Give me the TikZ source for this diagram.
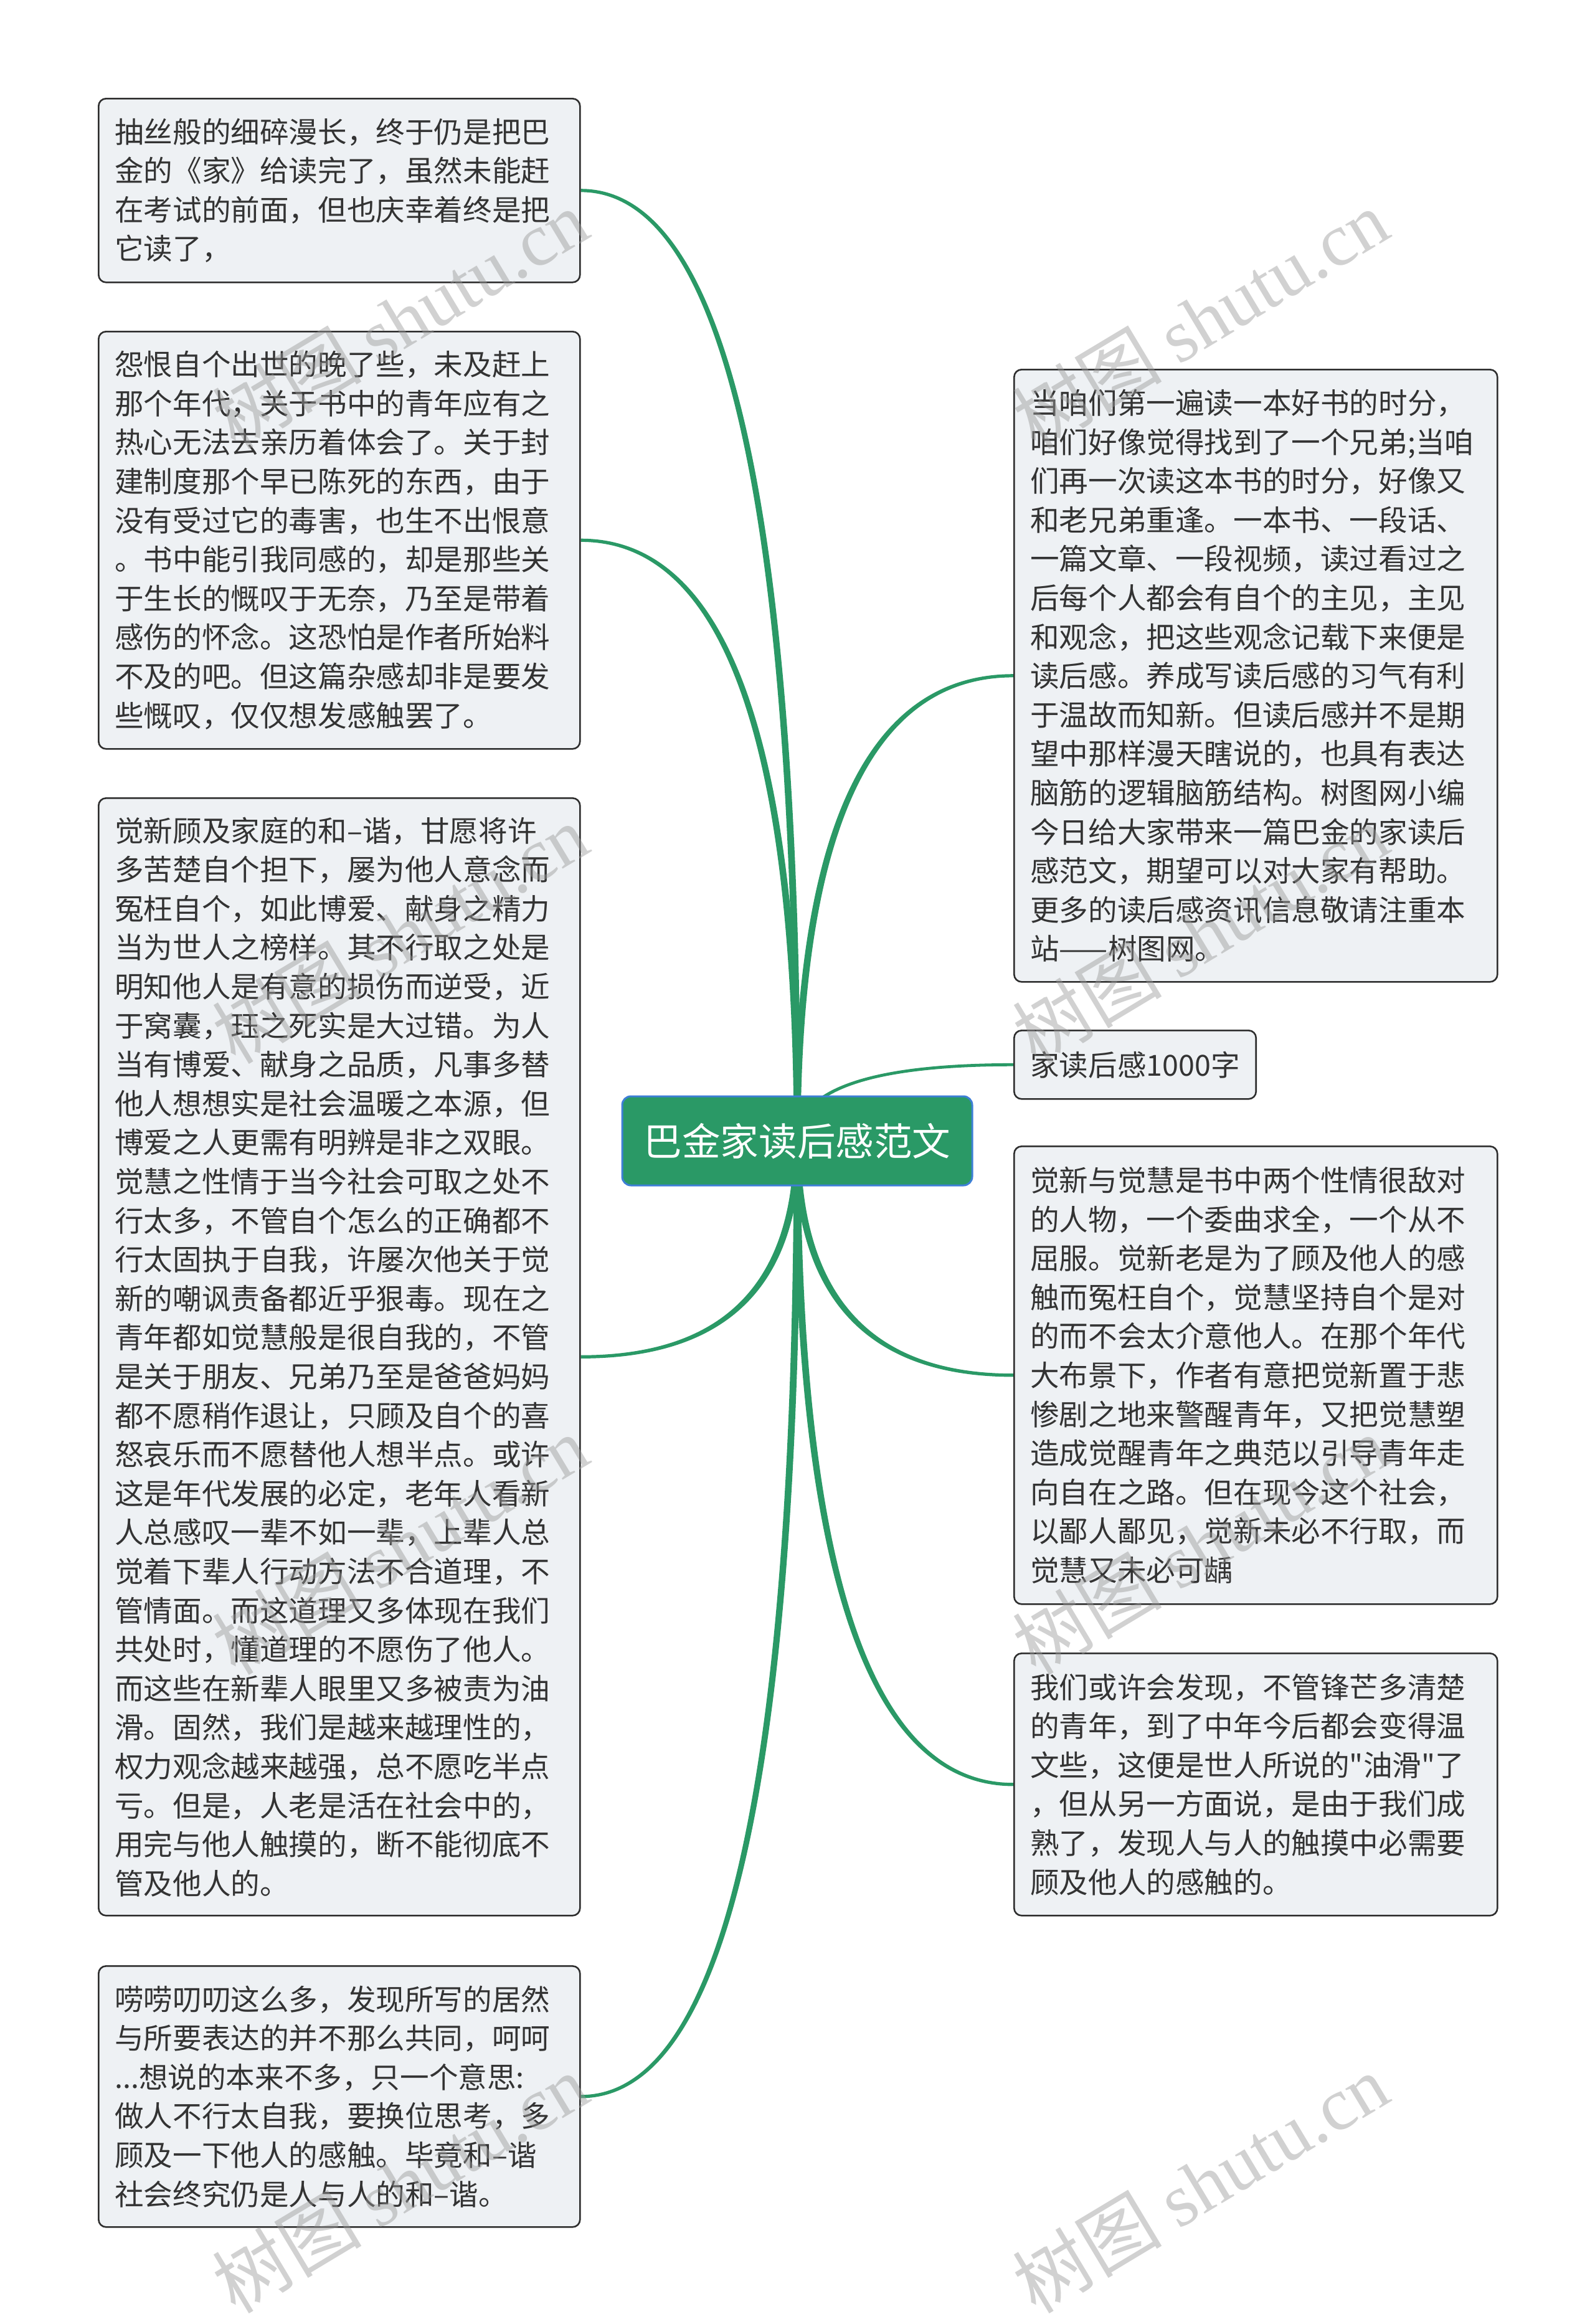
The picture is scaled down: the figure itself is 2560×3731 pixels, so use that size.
\documentclass[tikz,border=0pt]{standalone}
\usepackage{fontspec}
\setmainfont{Noto Sans CJK SC}
\newfontfamily\wmlatin{Liberation Serif}
\usetikzlibrary{calc,backgrounds}
\usepackage{xcolor}

\definecolor{branchgreen}{HTML}{2A9966}
\definecolor{rootblue}{HTML}{3D7FD6}
\definecolor{leaffill}{HTML}{EEF1F4}
\definecolor{leafline}{HTML}{2E2E2E}
\definecolor{inkgray}{HTML}{333333}

% straight double quote, kept out of the TeX mapping
\newcommand\sq{\XeTeXglyph\XeTeXcharglyph"22\relax}

% tapered branch from the root to a leaf anchor
\newcommand\branch[3]{%
  \fill[branch] let \p0=(root.center), \p1=(#1),
      \n1={sign(\x1-\x0)}, \n2={sign(\y1-\y0)} in
    ({\x0+(\n1)*#2}, \y0)
      .. controls ({\x0+(\n1)*#2}, {\y0+2/3*(\y1-(\n2)*#3-\y0)})
             and ({\x1+2/3*(\x0+(\n1)*#2-\x1)}, {\y1-(\n2)*#3}) ..
    (\x1, {\y1-(\n2)*#3}) -- (\x1, {\y1+(\n2)*#3})
      .. controls ({\x1+2/3*(\x0-(\n1)*#2-\x1)}, {\y1+(\n2)*#3})
             and ({\x0-(\n1)*#2}, {\y0+2/3*(\y1+(\n2)*#3-\y0)}) ..
    ({\x0-(\n1)*#2}, \y0) -- cycle;
}

\begin{document}
\begin{tikzpicture}[x=1pt, y=-1pt,
  leaf/.style={draw=leafline, fill=leaffill, line width=2.6pt, rounded corners=12pt,
    anchor=north west, inner xsep=26pt, inner ysep=0pt, align=left, text=inkgray,
    font=\fontsize{46.6}{62.6}\selectfont},
  root/.style={draw=rootblue, fill=branchgreen, line width=3pt, rounded corners=14pt,
    minimum width=562pt, minimum height=143pt, inner sep=0pt, text=white,
    font=\fontsize{61.6}{70}\selectfont},
  branch/.style={fill=branchgreen},
  wmtext/.style={text=black!40, text opacity=0.45, rotate=31,
    font=\fontsize{120}{130}\selectfont}]
\useasboundingbox (0,0) rectangle (2560,3731);

\node[root] (root) at (1280,1831.5) {巴金家读后感范文};

\node[leaf, text width=721pt, minimum height=295pt] (lb1) at (157,157) {抽丝般的细碎漫长，终于仍是把巴\\金的《家》给读完了，虽然未能赶\\在考试的前面，但也庆幸着终是把\\它读了，};
\node[leaf, text width=721pt, minimum height=670pt] (lb2) at (157,531) {怨恨自个出世的晚了些，未及赶上\\那个年代，关于书中的青年应有之\\热心无法去亲历着体会了。关于封\\建制度那个早已陈死的东西，由于\\没有受过它的毒害，也生不出恨意\\。书中能引我同感的，却是那些关\\于生长的慨叹于无奈，乃至是带着\\感伤的怀念。这恐怕是作者所始料\\不及的吧。但这篇杂感却非是要发\\些慨叹，仅仅想发感触罢了。};
\node[leaf, text width=721pt, minimum height=1794pt] (lb3) at (157,1280) {觉新顾及家庭的和–谐，甘愿将许\\多苦楚自个担下，屡为他人意念而\\冤枉自个，如此博爱、献身之精力\\当为世人之榜样。其不行取之处是\\明知他人是有意的损伤而逆受，近\\于窝囊，珏之死实是大过错。为人\\当有博爱、献身之品质，凡事多替\\他人想想实是社会温暖之本源，但\\博爱之人更需有明辨是非之双眼。\\觉慧之性情于当今社会可取之处不\\行太多，不管自个怎么的正确都不\\行太固执于自我，许屡次他关于觉\\新的嘲讽责备都近乎狠毒。现在之\\青年都如觉慧般是很自我的，不管\\是关于朋友、兄弟乃至是爸爸妈妈\\都不愿稍作退让，只顾及自个的喜\\怒哀乐而不愿替他人想半点。或许\\这是年代发展的必定，老年人看新\\人总感叹一辈不如一辈，上辈人总\\觉着下辈人行动方法不合道理，不\\管情面。而这道理又多体现在我们\\共处时，懂道理的不愿伤了他人。\\而这些在新辈人眼里又多被责为油\\滑。固然，我们是越来越理性的，\\权力观念越来越强，总不愿吃半点\\亏。但是，人老是活在社会中的，\\用完与他人触摸的，断不能彻底不\\管及他人的。};
\node[leaf, text width=721pt, minimum height=419pt] (lb4) at (157,3155) {唠唠叨叨这么多，发现所写的居然\\与所要表达的并不那么共同，呵呵\\...想说的本来不多，只一个意思:\\做人不行太自我，要换位思考，多\\顾及一下他人的感触。毕竟和–谐\\社会终究仍是人与人的和–谐。};

\node[leaf, text width=724pt, minimum height=983pt] (rb1) at (1627,592) {当咱们第一遍读一本好书的时分，\\咱们好像觉得找到了一个兄弟;当咱\\们再一次读这本书的时分，好像又\\和老兄弟重逢。一本书、一段话、\\一篇文章、一段视频，读过看过之\\后每个人都会有自个的主见，主见\\和观念，把这些观念记载下来便是\\读后感。养成写读后感的习气有利\\于温故而知新。但读后感并不是期\\望中那样漫天瞎说的，也具有表达\\脑筋的逻辑脑筋结构。树图网小编\\今日给大家带来一篇巴金的家读后\\感范文，期望可以对大家有帮助。\\更多的读后感资讯信息敬请注重本\\站——树图网。};
\node[leaf, minimum height=110pt] (rb2) at (1627,1653) {家读后感1000字};
\node[leaf, text width=724pt, minimum height=735pt] (rb3) at (1627,1839) {觉新与觉慧是书中两个性情很敌对\\的人物，一个委曲求全，一个从不\\屈服。觉新老是为了顾及他人的感\\触而冤枉自个，觉慧坚持自个是对\\的而不会太介意他人。在那个年代\\大布景下，作者有意把觉新置于悲\\惨剧之地来警醒青年，又把觉慧塑\\造成觉醒青年之典范以引导青年走\\向自在之路。但在现今这个社会，\\以鄙人鄙见，觉新未必不行取，而\\觉慧又未必可龋};
\node[leaf, text width=724pt, minimum height=421pt] (rb4) at (1627,2653) {我们或许会发现，不管锋芒多清楚\\的青年，到了中年今后都会变得温\\文些，这便是世人所说的\sq 油滑\sq 了\\，但从另一方面说，是由于我们成\\熟了，发现人与人的触摸中必需要\\顾及他人的感触的。};

\begin{scope}[on background layer]
\fill[white] (0,0) rectangle (2560,3731);
\foreach \leaf in {lb1.east, lb2.east, lb3.east, lb4.east, rb1.west, rb3.west, rb4.west}
    \branch{\leaf}{5.5pt}{2.6pt};
\branch{rb2.west}{3pt}{2.4pt}
\end{scope}

\foreach \x in {642,1927}
    \foreach \y in {512,1499,2480,3505}
        \node[wmtext] (wm-\x-\y) at (\x,\y) {树图 {\wmlatin shutu.cn}};
\end{tikzpicture}
\end{document}
